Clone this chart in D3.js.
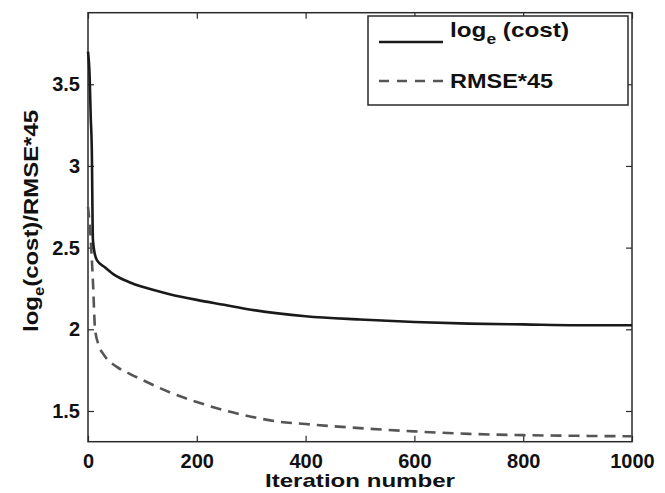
<!DOCTYPE html>
<html>
<head>
<meta charset="utf-8">
<script src="https://cdn.jsdelivr.net/npm/d3@7"></script>
<style>
  body { margin: 0; background: #fff; }
  text { font-family: "Liberation Sans", Arial, sans-serif; font-weight: bold; fill: #111; }
</style>
</head>
<body>
<svg id="chart" width="665" height="493"></svg>
<script>
'use strict';

// Data
const costIter = [0, 3, 5, 7, 9, 12, 17, 31, 50, 75, 100, 150, 200, 250, 300, 400, 500, 600, 700, 800, 900, 1000];
const costVal  = [3.70, 3.55, 3.30, 3.10, 2.55, 2.47, 2.42, 2.38, 2.33, 2.29, 2.26, 2.215, 2.18, 2.15, 2.12, 2.08, 2.06, 2.045, 2.035, 2.03, 2.025, 2.025];
const rmseIter = [0, 4, 9, 13, 20, 30, 53, 75, 100, 150, 200, 250, 300, 350, 400, 500, 600, 700, 800, 900, 1000];
const rmseVal  = [2.75, 2.60, 2.30, 2.00, 1.90, 1.84, 1.77, 1.73, 1.69, 1.615, 1.555, 1.505, 1.465, 1.435, 1.42, 1.395, 1.375, 1.36, 1.352, 1.348, 1.345];
const xTicks = [0, 200, 400, 600, 800, 1000];
const yTicks = [1.5, 2, 2.5, 3, 3.5];

const svg = d3.select('#chart');
const pLeft = 88, pRight = 632, pTop = 12.7, pBottom = 441.7;

const x = d3.scaleLinear().domain([0, 1000]).range([pLeft, pRight]);
const y = d3.scaleLinear().domain([1.312, 3.938]).range([pBottom, pTop]);

const ink = '#2a2a2a';

// Frame
svg.append('rect')
  .attr('x', pLeft).attr('y', pTop)
  .attr('width', pRight - pLeft).attr('height', pBottom - pTop)
  .attr('fill', 'none').attr('stroke', ink).attr('stroke-width', 1.5);

// Axes with inward ticks, mirrored on top/right
const axB = d3.axisBottom(x).tickValues(xTicks).tickSize(-6).tickPadding(12).tickFormat(d3.format('d'));
const axT = d3.axisTop(x).tickValues(xTicks).tickSize(-6).tickFormat('');
const axL = d3.axisLeft(y).tickValues(yTicks).tickSize(-6).tickPadding(8).tickFormat(d3.format('~g'));
const axR = d3.axisRight(y).tickValues(yTicks).tickSize(-6).tickFormat('');

function styleAxis(g) {
  g.select('.domain').remove();
  g.selectAll('.tick line').attr('stroke', ink).attr('stroke-width', 1.2);
  g.selectAll('.tick text')
    .attr('font-size', 20).attr('font-weight', 'bold')
    .attr('font-family', '"Liberation Sans", Arial, sans-serif').attr('fill', '#111');
}
svg.append('g').attr('transform', 'translate(0,' + pBottom + ')').call(axB).call(styleAxis);
svg.append('g').attr('transform', 'translate(0,' + pTop + ')').call(axT).call(styleAxis);
svg.append('g').attr('transform', 'translate(' + pLeft + ',0)').call(axL).call(styleAxis);
svg.append('g').attr('transform', 'translate(' + pRight + ',0)').call(axR).call(styleAxis);

// Curves
const line = d3.line().x(d => x(d[0])).y(d => y(d[1])).curve(d3.curveMonotoneX);

svg.append('path')
  .datum(d3.zip(rmseIter, rmseVal))
  .attr('fill', 'none').attr('stroke', '#555').attr('stroke-width', 2.6)
  .attr('stroke-dasharray', '11,7')
  .attr('d', line);

svg.append('path')
  .datum(d3.zip(costIter, costVal))
  .attr('fill', 'none').attr('stroke', '#1a1a1a').attr('stroke-width', 2.6)
  .attr('d', line);

// Axis titles
svg.append('text')
  .attr('x', (pLeft + pRight) / 2).attr('y', 487)
  .attr('text-anchor', 'middle').attr('font-size', 19)
  .attr('textLength', 190).attr('lengthAdjust', 'spacingAndGlyphs')
  .text('Iteration number');

const yt = svg.append('text')
  .attr('transform', 'translate(38,' + 221 + ') rotate(-90)')
  .attr('text-anchor', 'middle').attr('font-size', 20)
  .attr('textLength', 222).attr('lengthAdjust', 'spacingAndGlyphs');
yt.append('tspan').text('log');
yt.append('tspan').attr('font-size', 14).attr('dy', 6).text('e');
yt.append('tspan').attr('dy', -6).text('(cost)/RMSE*45');

// Legend
const lg = svg.append('g');
lg.append('rect')
  .attr('x', 368).attr('y', 16).attr('width', 260).attr('height', 89)
  .attr('fill', '#fff').attr('stroke', ink).attr('stroke-width', 1.5);
lg.append('line')
  .attr('x1', 379).attr('x2', 443).attr('y1', 42).attr('y2', 42)
  .attr('stroke', '#1a1a1a').attr('stroke-width', 2.6);
lg.append('line')
  .attr('x1', 379).attr('x2', 443).attr('y1', 81).attr('y2', 81)
  .attr('stroke', '#555').attr('stroke-width', 2.6).attr('stroke-dasharray', '10,8');

const t1 = lg.append('text').attr('x', 450).attr('y', 37).attr('font-size', 21)
  .attr('textLength', 119).attr('lengthAdjust', 'spacingAndGlyphs');
t1.append('tspan').text('log');
t1.append('tspan').attr('font-size', 15).attr('dy', 7).text('e');
t1.append('tspan').attr('dy', -7).text(' (cost)');

lg.append('text').attr('x', 450).attr('y', 88).attr('font-size', 20)
  .attr('textLength', 103).attr('lengthAdjust', 'spacingAndGlyphs')
  .text('RMSE*45');
</script>
</body>
</html>
